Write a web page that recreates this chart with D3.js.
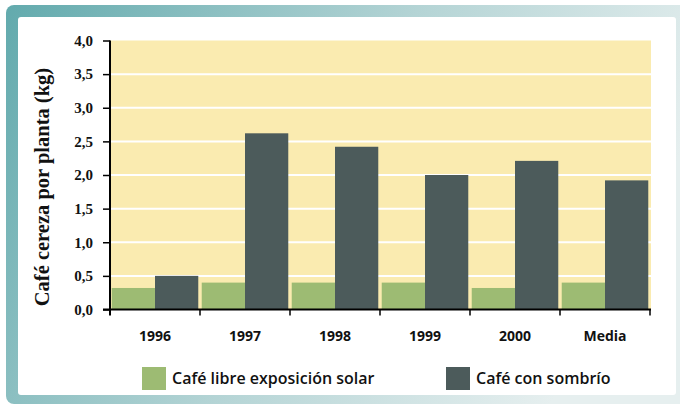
<!DOCTYPE html>
<html>
<head>
<meta charset="utf-8">
<script src="https://d3js.org/d3.v7.min.js"></script>
<style>
  body { margin: 0; background: #fff; }
  svg { display: block; }
</style>
</head>
<body>
<svg id="chart" width="680" height="406"></svg>
<script>
// Data
const years = ["1996", "1997", "1998", "1999", "2000", "Media"];
const series = ["Café libre exposición solar", "Café con sombrío"];
const sol = [0.32, 0.40, 0.40, 0.40, 0.32, 0.40];
const sombra = [0.50, 2.62, 2.42, 2.00, 2.21, 1.92];
const yTicks = [0, 0.5, 1, 1.5, 2, 2.5, 3, 3.5, 4];

const colors = ["#9dbb73", "#4c5b5b"];

const svg = d3.select("#chart");

// frame with gradient
const defs = svg.append("defs");
const grad = defs.append("linearGradient")
    .attr("id", "frameGrad")
    .attr("x1", "0%").attr("y1", "0%")
    .attr("x2", "100%").attr("y2", "30%");
grad.append("stop").attr("offset", "0%").attr("stop-color", "#62aaad");
grad.append("stop").attr("offset", "55%").attr("stop-color", "#b4d4d5");
grad.append("stop").attr("offset", "100%").attr("stop-color", "#e6efef");

svg.append("rect")
    .attr("x", 6).attr("y", 5)
    .attr("width", 690).attr("height", 399)
    .attr("rx", 8)
    .attr("fill", "url(#frameGrad)");

svg.append("rect")
    .attr("x", 18).attr("y", 17)
    .attr("width", 658).attr("height", 378)
    .attr("rx", 3)
    .attr("fill", "#fff");

// scales
const x0 = 110, x1 = 650, yTop = 40.5, yBot = 309.5;

const x = d3.scaleBand()
    .domain(years)
    .range([x0, x1]);

const xSub = d3.scaleBand()
    .domain([0, 1])
    .range([0, x.bandwidth()])
    .paddingOuter(0.04);

const y = d3.scaleLinear()
    .domain([0, 4])
    .range([yBot, yTop]);

// plot background
svg.append("rect")
    .attr("x", x0).attr("y", yTop)
    .attr("width", x1 - x0 + 1).attr("height", yBot - yTop)
    .attr("fill", "#faebb0");

// gridlines
svg.append("g")
    .selectAll("line")
    .data(yTicks.slice(1, -1))
    .join("line")
    .attr("x1", x0).attr("x2", x1 + 1)
    .attr("y1", d => y(d)).attr("y2", d => y(d))
    .attr("stroke", "#fff")
    .attr("stroke-width", 2);

// bars
const rows = years.map((yr, i) => ({ year: yr, vals: [sol[i], sombra[i]] }));

const groups = svg.append("g")
    .selectAll("g")
    .data(rows)
    .join("g")
    .attr("transform", d => "translate(" + x(d.year) + ",0)");

groups.selectAll("rect")
    .data(d => d.vals.map((v, k) => ({ k: k, v: v })))
    .join("rect")
    .attr("x", d => xSub(d.k))
    .attr("width", xSub.bandwidth())
    .attr("y", d => y(d.v))
    .attr("height", d => yBot - y(d.v))
    .attr("fill", d => colors[d.k]);

// y axis
const yAxis = svg.append("g")
    .attr("transform", "translate(" + x0 + ",0)")
    .call(d3.axisLeft(y)
      .tickValues(yTicks)
      .tickSize(7)
      .tickPadding(10)
      .tickFormat(d => d3.format(".1f")(d).replace(".", ",")));

yAxis.select(".domain")
    .attr("d", "M0," + yTop + "V" + yBot)
    .attr("stroke", "#000")
    .attr("stroke-width", 2);
yAxis.selectAll(".tick line").attr("stroke", "#000").attr("stroke-width", 1.5);
yAxis.selectAll("text")
    .attr("fill", "#111")
    .style("font-family", "'Liberation Serif', 'Times New Roman', serif")
    .style("font-weight", "bold")
    .style("font-size", "15px");

// x axis
svg.append("line")
    .attr("x1", x0 - 7).attr("x2", x1 + 1)
    .attr("y1", yBot).attr("y2", yBot)
    .attr("stroke", "#000")
    .attr("stroke-width", 2);

svg.append("g")
    .selectAll("line")
    .data(years.slice(1).concat(["end"]))
    .join("line")
    .attr("x1", d => d === "end" ? x1 : x(d))
    .attr("x2", d => d === "end" ? x1 : x(d))
    .attr("y1", yBot).attr("y2", yBot + 6)
    .attr("stroke", "#000")
    .attr("stroke-width", 1.5);

svg.append("line")
    .attr("x1", x0).attr("x2", x0)
    .attr("y1", yBot).attr("y2", yBot + 6)
    .attr("stroke", "#000")
    .attr("stroke-width", 2);

svg.append("g")
    .selectAll("text")
    .data(years)
    .join("text")
    .attr("x", d => x(d) + x.bandwidth() / 2)
    .attr("y", 341)
    .attr("text-anchor", "middle")
    .attr("fill", "#111")
    .style("font-family", "'Open Sans', sans-serif")
    .style("font-weight", "bold")
    .style("font-size", "14px")
    .text(d => d);

// y title
svg.append("text")
    .attr("transform", "translate(49,187) rotate(-90)")
    .attr("text-anchor", "middle")
    .attr("fill", "#111")
    .style("font-family", "'Liberation Serif', 'Times New Roman', serif")
    .style("font-weight", "bold")
    .style("font-size", "20.5px")
    .text("Café cereza por planta (kg)");

// legend
const legendX = [142, 446];
const legend = svg.append("g")
    .selectAll("g")
    .data(series)
    .join("g")
    .attr("transform", (d, i) => "translate(" + legendX[i] + ",367)");

legend.append("rect")
    .attr("width", 24).attr("height", 23)
    .attr("fill", (d, i) => colors[i]);

legend.append("text")
    .attr("x", 30).attr("y", 17)
    .attr("fill", "#111")
    .style("font-family", "'Open Sans', sans-serif")
    .style("font-weight", 600)
    .style("font-size", "16px")
    .text(d => d);
</script>
</body>
</html>
